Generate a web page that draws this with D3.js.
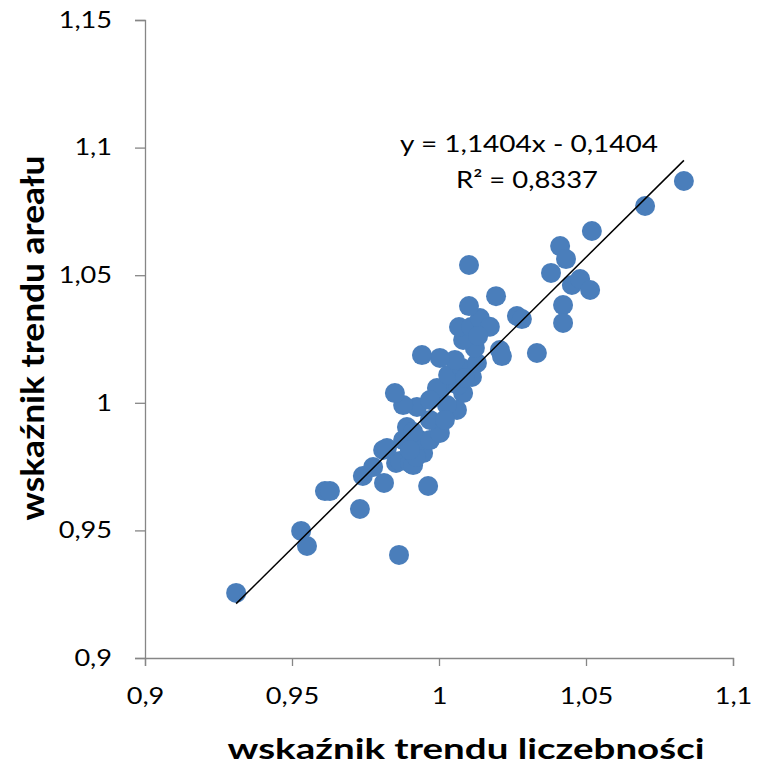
<!DOCTYPE html>
<html><head><meta charset="utf-8">
<script src="https://cdn.jsdelivr.net/npm/d3@7"></script>
<style>body{margin:0;background:#fff}svg{display:block}</style>
</head><body>
<script>
const xValues = [0.9310,0.9531,0.9551,0.9612,0.9629,0.9731,0.9741,0.9776,0.9810,0.9813,0.9864,0.9854,0.9867,0.9901,0.9912,0.9946,0.9963,0.9823,0.9922,0.9878,0.9935,0.9891,0.9969,1.0003,0.9969,0.9925,0.9878,0.9850,1.0003,1.0048,1.0082,1.0061,0.9993,1.0065,1.0031,1.0112,1.0078,1.0129,1.0054,1.0003,0.9942,1.0122,1.0082,1.0207,1.0214,1.0333,1.0068,1.0109,1.0150,1.0139,1.0102,1.0194,1.0265,1.0282,1.0102,1.0381,1.0412,1.0432,1.0422,1.0422,1.0452,1.0480,1.0514,1.0520,1.0701,1.0833,1.0173,1.0027,1.0020,0.9912,1.0088,1.0133,0.9969,0.9901];
const yValues = [0.9255,0.9498,0.9439,0.9654,0.9654,0.9584,0.9713,0.9748,0.9815,0.9686,0.9404,0.9764,0.9772,0.9764,0.9756,0.9803,0.9674,0.9823,0.9788,0.9854,0.9854,0.9905,0.9854,0.9882,0.9933,0.9984,0.9991,1.0038,1.0050,1.0078,1.0038,0.9972,1.0058,1.0070,1.0109,1.0101,1.0136,1.0156,1.0168,1.0176,1.0187,1.0215,1.0246,1.0207,1.0183,1.0195,1.0297,1.0297,1.0293,1.0332,1.0379,1.0418,1.0340,1.0328,1.0540,1.0509,1.0614,1.0563,1.0383,1.0313,1.0462,1.0485,1.0442,1.0673,1.0771,1.0869,1.0298,0.9991,0.9933,0.9886,1.0097,1.0262,1.0011,0.9815];
const xTicks = [0.9,0.95,1,1.05,1.1];
const yTicks = [0.9,0.95,1,1.05,1.1,1.15];
const slope = 1.1404, intercept = -0.1404;
const eqLabel = "y = 1,1404x - 0,1404";
const r2Label = "R² = 0,8337";
const xTitle = "wskaźnik trendu liczebności";
const yTitle = "wskaźnik trendu areału";

const W = 757, H = 767;
const SX = 1.18;
const svg = d3.select("body").append("svg").attr("width", W).attr("height", H);
const x = d3.scaleLinear().domain([0.9, 1.1]).range([145, 733]);
const y = d3.scaleLinear().domain([0.9, 1.15]).range([658, 20]);
const fmt = d => String(d).replace(".", ",");
const font = "Lato, 'Open Sans', sans-serif";
const axisColor = "#868686";

const xa = svg.append("g").attr("transform", "translate(0,658)")
  .call(d3.axisBottom(x).tickValues(xTicks).tickFormat(fmt).tickSize(8).tickPadding(22));
const ya = svg.append("g").attr("transform", "translate(145,0)")
  .call(d3.axisLeft(y).tickValues(yTicks).tickFormat(fmt).tickSize(10).tickPadding(23));
[xa, ya].forEach(a => {
  a.selectAll("path,line").attr("stroke", axisColor).attr("stroke-width", 1.3);
  a.selectAll("text").attr("font-family", font).attr("font-size", 23).attr("fill", "#000");
});
xa.selectAll(".tick text").attr("transform", `scale(${SX},1)`);
ya.selectAll(".tick text").attr("x", -33 / SX).attr("transform", `scale(${SX},1)`);

const pts = xValues.map((v, i) => [v, yValues[i]]);
svg.append("g").selectAll("circle").data(pts).join("circle")
  .attr("cx", d => x(d[0])).attr("cy", d => y(d[1])).attr("r", 10)
  .attr("fill", "#4a7ebb");

const xmin = d3.min(xValues), xmax = d3.max(xValues);
svg.append("line")
  .attr("x1", x(xmin)).attr("y1", y(slope * xmin + intercept))
  .attr("x2", x(xmax)).attr("y2", y(slope * xmax + intercept))
  .attr("stroke", "#000").attr("stroke-width", 1.5);

svg.append("text").attr("x", 529).attr("y", 152).attr("text-anchor", "middle")
  .attr("font-family", font).attr("font-size", 23)
  .attr("textLength", 258).attr("lengthAdjust", "spacingAndGlyphs").text(eqLabel);
svg.append("text").attr("x", 527).attr("y", 188).attr("text-anchor", "middle")
  .attr("font-family", font).attr("font-size", 23)
  .attr("textLength", 142).attr("lengthAdjust", "spacingAndGlyphs").text(r2Label);

svg.append("text").attr("x", 466).attr("y", 759).attr("text-anchor", "middle")
  .attr("font-family", font).attr("font-weight", "bold").attr("font-size", 28)
  .attr("textLength", 477).attr("lengthAdjust", "spacingAndGlyphs").text(xTitle);
svg.append("text").attr("transform", "translate(44,338) rotate(-90) scale(1,1.2)").attr("text-anchor", "middle")
  .attr("font-family", font).attr("font-weight", "bold").attr("font-size", 27)
  .attr("textLength", 365).attr("lengthAdjust", "spacingAndGlyphs").text(yTitle);
</script>
</body></html>
